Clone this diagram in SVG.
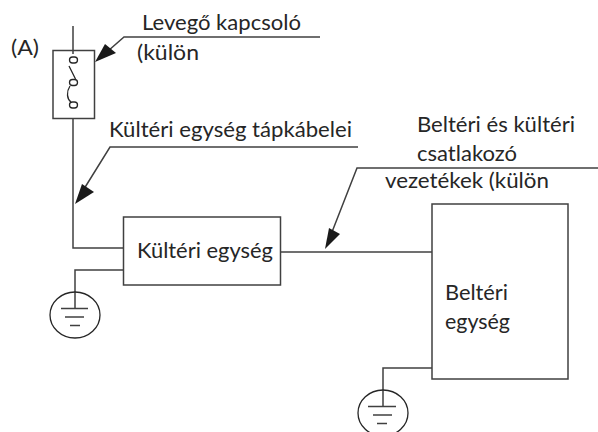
<svg xmlns="http://www.w3.org/2000/svg" width="598" height="432" viewBox="0 0 598 432">
<style>
.l{fill:none;stroke:#404040;stroke-width:1.5}
.t{fill:none;stroke:#262626;stroke-width:1.3}
.a{fill:#1a1a1a;stroke:none}
text{font-family:Lato,"Liberation Sans",sans-serif;font-size:21.500px;fill:#262626}
</style>
<rect width="598" height="432" fill="#fff"/>
<g id="connectors">
<path class="l" d="M73 26V54M73 118V248H123"/>
<path class="l" d="M124 270H75V308"/>
<path class="l" d="M281 252H432"/>
<path class="l" d="M432 368H383V406"/>
<path class="l" d="M320 37H124L100 58"/>
<path class="a" d="M95 62L105 44L116 53Z"/>
<path class="l" d="M358 147H110L79 197"/>
<path class="a" d="M75 204L82 184L94 192Z"/>
<path class="l" d="M598 168H357L332 232"/>
<path class="a" d="M325 249L329 228L340 234Z"/>
</g>
<g id="switch">
<rect class="l" x="53" y="50.500" width="41.500" height="68"/>
<rect class="t" x="69.500" y="57" width="8" height="6" rx="3" fill="#fff"/>
<rect class="t" x="69.500" y="79.500" width="8" height="6" rx="3" fill="#fff"/>
<rect class="t" x="69.500" y="102" width="8" height="6" rx="3" fill="#fff"/>
<path class="t" d="M69 66L75.500 79M70 86C66 92 67 99 71 102"/>
</g>
<g id="outdoor">
<rect class="l" x="123.500" y="217" width="157" height="68"/>
<text x="137" y="258" textLength="136" lengthAdjust="spacingAndGlyphs">Kültéri egység</text>
</g>
<g id="indoor">
<rect class="l" x="432" y="204" width="136" height="175"/>
<text x="445" y="300" textLength="63" lengthAdjust="spacingAndGlyphs">Beltéri</text>
<text x="445" y="329" textLength="65" lengthAdjust="spacingAndGlyphs">egység</text>
</g>
<g id="ground1">
<ellipse class="t" cx="75" cy="315" rx="25" ry="23"/>
<path class="l" d="M61 308.500H88M65 317H84M70 325.500H80"/>
</g>
<g id="ground2">
<ellipse class="t" cx="383" cy="413" rx="25" ry="23"/>
<path class="l" d="M368 406.500H396M373 415H392M377 423.500H387"/>
</g>
<g id="labels">
<text x="11" y="55" textLength="28" lengthAdjust="spacingAndGlyphs">(A)</text>
<text x="142" y="30" textLength="159" lengthAdjust="spacingAndGlyphs">Levegő kapcsoló</text>
<text x="137" y="60" textLength="62" lengthAdjust="spacingAndGlyphs">(külön</text>
<text x="109" y="137" textLength="243" lengthAdjust="spacingAndGlyphs">Kültéri egység tápkábelei</text>
<text x="417" y="132" textLength="158" lengthAdjust="spacingAndGlyphs">Beltéri és kültéri</text>
<text x="417" y="161" textLength="100" lengthAdjust="spacingAndGlyphs">csatlakozó</text>
<text x="385" y="188" textLength="164" lengthAdjust="spacingAndGlyphs">vezetékek (külön</text>
</g>
</svg>
